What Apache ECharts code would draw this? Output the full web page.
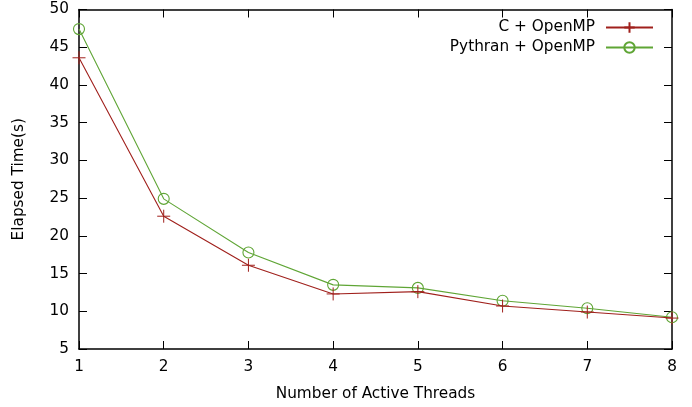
<!DOCTYPE html>
<html><head><meta charset="utf-8">
<script src="https://cdn.jsdelivr.net/npm/echarts@6/dist/echarts.min.js"></script>
<style>html,body{margin:0;padding:0;background:#fff}#c{width:692px;height:407px}</style>
</head><body><div id="c"></div>
<script>
const threads = [1, 2, 3, 4, 5, 6, 7, 8];
const cOpenMP = [43.6, 22.6, 16.1, 12.3, 12.6, 10.7, 9.9, 9.1];
const pythranOpenMP = [47.4, 24.9, 17.8, 13.5, 13.1, 11.4, 10.4, 9.2];
const seriesNames = ['C + OpenMP', 'Pythran + OpenMP'];
const xTitle = 'Number of Active Threads';
const yTitle = 'Elapsed Time(s)';

const FONT = 'DejaVu Sans';
const FS = 15.3;
const RED = '#a0201c';
const GREEN = '#5fa535';
const crossPath = 'path://M0,5 L10,5 M5,0 L5,10';

const chart = echarts.init(document.getElementById('c'), null, {renderer: 'canvas'});
const axisLine = {show: true, lineStyle: {color: '#000', width: 1.5}};
const tick = {show: true, inside: true, length: 8, lineStyle: {color: '#000', width: 1}};
chart.setOption({
  animation: false,
  backgroundColor: '#fff',
  textStyle: {fontFamily: FONT},
  grid: {left: 79, right: 20, top: 9.5, bottom: 58},
  legend: {
    right: 33, top: 15, orient: 'vertical', align: 'right',
    itemWidth: 47, itemHeight: 13, itemGap: 5,
    textStyle: {fontFamily: FONT, fontSize: FS, color: '#000', padding: [0, 6, 0, 0]},
    data: seriesNames
  },
  xAxis: [{
    type: 'value', min: 1, max: 8, interval: 1,
    name: xTitle, nameLocation: 'middle', nameGap: 38,
    nameTextStyle: {fontFamily: FONT, fontSize: FS, color: '#000', verticalAlign: 'top'},
    axisLine: axisLine, axisTick: tick, splitLine: {show: false},
    axisLabel: {fontFamily: FONT, fontSize: FS, color: '#000', margin: 11}
  }, {
    type: 'value', position: 'top', min: 1, max: 8, interval: 1,
    axisLine: axisLine, axisTick: tick, splitLine: {show: false}, axisLabel: {show: false}
  }],
  yAxis: [{
    type: 'value', min: 5, max: 50, interval: 5,
    name: yTitle, nameLocation: 'middle', nameGap: 52, nameRotate: 90,
    nameTextStyle: {fontFamily: FONT, fontSize: FS, color: '#000'},
    axisLine: axisLine, axisTick: tick, splitLine: {show: false},
    axisLabel: {fontFamily: FONT, fontSize: FS, color: '#000', margin: 10}
  }, {
    type: 'value', position: 'right', min: 5, max: 50, interval: 5,
    axisLine: axisLine, axisTick: tick, splitLine: {show: false}, axisLabel: {show: false}
  }],
  series: [{
    name: seriesNames[0], type: 'line',
    data: threads.map((t, i) => [t, cOpenMP[i]]),
    symbol: crossPath, symbolSize: 13, showAllSymbol: true,
    lineStyle: {color: RED, width: 1.1},
    itemStyle: {color: 'rgba(0,0,0,0)', borderColor: RED, borderWidth: 1},
    z: 3
  }, {
    name: seriesNames[1], type: 'line',
    data: threads.map((t, i) => [t, pythranOpenMP[i]]),
    symbol: 'circle', symbolSize: 11, showAllSymbol: true,
    lineStyle: {color: GREEN, width: 1.1},
    itemStyle: {color: 'rgba(0,0,0,0)', borderColor: GREEN, borderWidth: 1.1},
    z: 2
  }]
});
</script></body></html>
